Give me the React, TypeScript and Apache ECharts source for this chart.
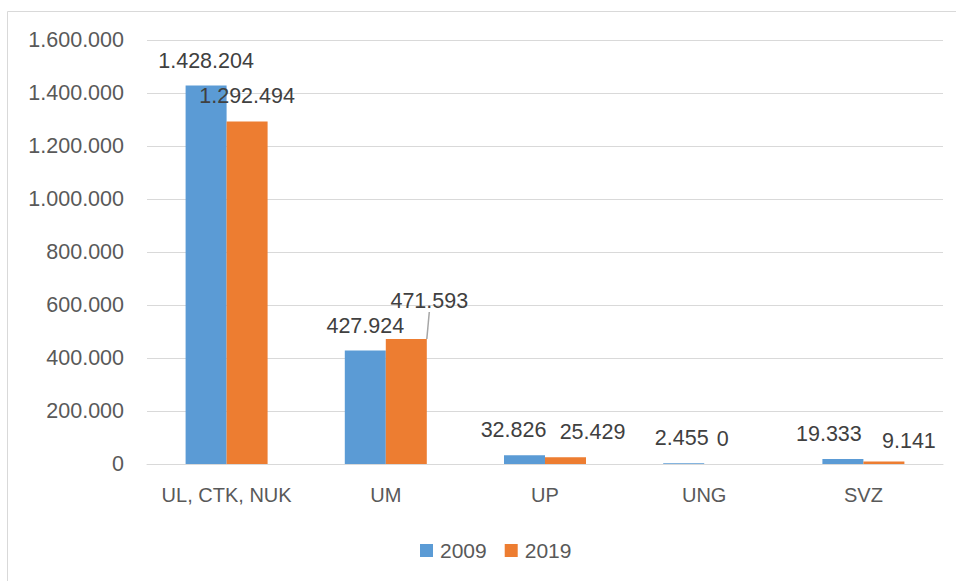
import React, { useEffect, useRef } from "react";
import * as echarts from "echarts";

const categories = ["UL, CTK, NUK", "UM", "UP", "UNG", "SVZ"];
const values2009 = [1428204, 427924, 32826, 2455, 19333];
const values2019 = [1292494, 471593, 25429, 0, 9141];
const yTicks = { min: 0, max: 1600000, interval: 200000 };

// label nudges (pixels) [dx, dy] per series/category
const labelNudge2009 = [[0, 0], [0, 0], [-11, 0], [-2, 0], [-14, 0]];
const labelNudge2019 = [[0, 0], [23, -13], [27, 0], [-2, 0], [25, 4]];

function fmt(v: number): string {
  return String(v).replace(/\B(?=(\d{3})+(?!\d))/g, ".");
}

const FONT = "'Liberation Sans', Arial, sans-serif";
const NUM_SIZE = 21.5;

export default function App() {
  const ref = useRef<HTMLDivElement>(null);
  useEffect(() => {
    if (!ref.current) return;
    const chart = echarts.init(ref.current, undefined, { renderer: "svg" });
    const nudges = [labelNudge2009, labelNudge2019];
    const labelCommon = {
      show: true,
      position: "top" as const,
      distance: 14,
      color: "#404040",
      fontSize: NUM_SIZE,
      fontFamily: FONT,
      formatter: (p: any) => fmt(p.value),
    };
    chart.setOption({
      animation: false,
      textStyle: { fontFamily: FONT },
      graphic: [
        {
          type: "rect",
          z: -1,
          shape: { x: 7.5, y: 11.5, width: 1000, height: 700 },
          style: { fill: "none", stroke: "#d9d9d9", lineWidth: 1 },
          silent: true,
        },
      ],
      grid: { left: 147, right: 13, top: 40, bottom: 117, containLabel: false },
      legend: {
        data: ["2009", "2019"],
        top: 535,
        left: 415,
        itemWidth: 13,
        itemHeight: 13,
        itemGap: 18,
        icon: "rect",
        textStyle: { color: "#595959", fontSize: 21, fontFamily: FONT, padding: [0, 0, 0, 2] },
      },
      xAxis: {
        type: "category",
        data: categories,
        axisLine: { lineStyle: { color: "#d9d9d9" } },
        axisTick: { show: false },
        axisLabel: { color: "#595959", fontSize: 20, margin: 21, fontFamily: FONT, interval: 0 },
      },
      yAxis: {
        type: "value",
        min: yTicks.min,
        max: yTicks.max,
        interval: yTicks.interval,
        axisLine: { show: false },
        axisTick: { show: false },
        splitLine: { lineStyle: { color: "#d9d9d9" } },
        axisLabel: {
          color: "#595959",
          fontSize: NUM_SIZE,
          margin: 23,
          fontFamily: FONT,
          formatter: (v: number) => fmt(v),
        },
      },
      series: [
        {
          name: "2009",
          type: "bar",
          barWidth: 41,
          barGap: "0%",
          itemStyle: { color: "#5b9bd5" },
          label: labelCommon,
          data: values2009,
          labelLayout: (p: any) => ({ dx: nudges[0][p.dataIndex][0], dy: nudges[0][p.dataIndex][1] }),
        },
        {
          name: "2019",
          type: "bar",
          barWidth: 41,
          barGap: "0%",
          itemStyle: { color: "#ed7d31" },
          label: labelCommon,
          data: values2019.map((v, i) =>
            i === 1 ? { value: v, labelLine: { show: true, lineStyle: { color: "#a6a6a6", width: 1.5 } } } : v
          ),
          labelLine: { show: false, length2: 0 },
          labelLayout: (p: any) => ({ dx: nudges[1][p.dataIndex][0], dy: nudges[1][p.dataIndex][1] }),
        },
      ],
    });
    return () => chart.dispose();
  }, []);
  return (
    <div
      ref={ref}
      style={{ position: "absolute", left: 0, top: 0, width: 956, height: 581, background: "#fff" }}
    />
  );
}
